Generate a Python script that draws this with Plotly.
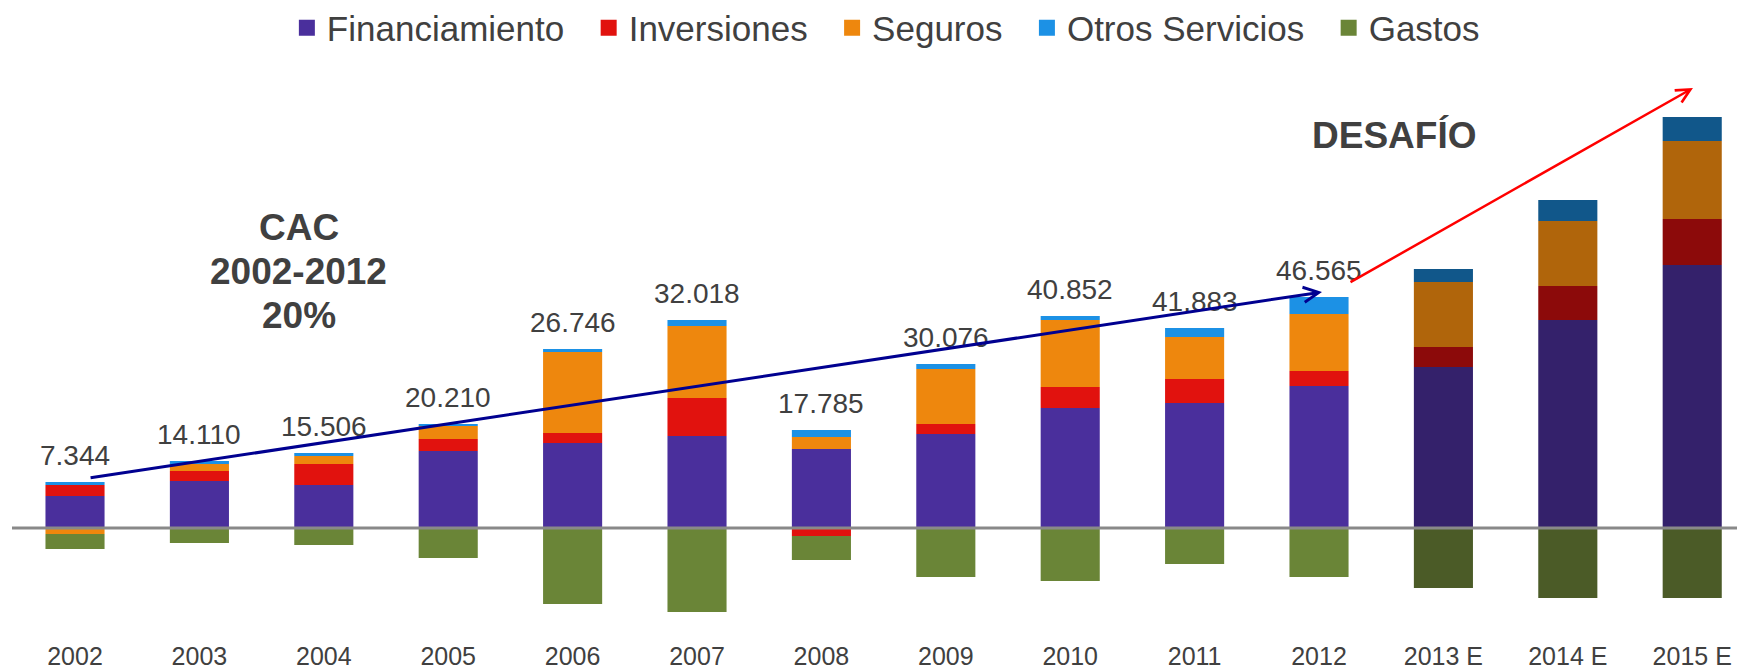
import plotly.graph_objects as go

categories = ["2002", "2003", "2004", "2005", "2006", "2007", "2008", "2009",
              "2010", "2011", "2012", "2013 E", "2014 E", "2015 E"]
financiamiento = [6.4, 9.4, 8.6, 15.4, 17.0, 18.4, 15.8, 18.8, 24.0, 25.0, 28.4, 32.2, 41.6, 52.6]
inversiones = [2.2, 2.0, 4.2, 2.4, 2.0, 7.6, -1.6, 2.0, 4.2, 4.8, 3.0, 4.0, 6.8, 9.2]
seguros = [-1.2, 1.4, 1.6, 2.6, 16.2, 14.4, 2.4, 11.0, 13.4, 8.4, 11.4, 13.0, 13.0, 15.6]
otros = [0.6, 0.6, 0.6, 0.4, 0.6, 1.2, 1.4, 1.0, 0.8, 1.8, 3.4, 2.6, 4.2, 4.8]
gastos = [-3.0, -3.0, -3.4, -6.0, -15.2, -16.8, -4.8, -9.8, -10.6, -7.2, -9.8, -12.0, -14.0, -14.0]
value_labels = ["7.344", "14.110", "15.506", "20.210", "26.746", "32.018", "17.785",
                "30.076", "40.852", "41.883", "46.565"]
cac_lines = ["CAC", "2002-2012", "20%"]
estimated = [False] * 11 + [True] * 3

series = [
    ("Financiamiento", financiamiento, "#4A2F9C", "#34216B"),
    ("Inversiones", inversiones, "#E1120E", "#8C0A0A"),
    ("Seguros", seguros, "#EE870D", "#B0650B"),
    ("Otros Servicios", otros, "#1C91E5", "#11578A"),
    ("Gastos", gastos, "#6A8537", "#4B5B27"),
]

FONT = "Liberation Sans, Arial, sans-serif"
TXT = "#404040"
PAD = "\u00a0\u00a0"

fig = go.Figure()
for name, vals, c, cd in series:
    fig.add_trace(go.Bar(
        x=categories, y=vals, name=name, width=0.475, showlegend=False,
        marker=dict(color=[cd if e else c for e in estimated], line=dict(width=0)),
        hoverinfo="skip",
    ))
for k, (name, vals, c, cd) in enumerate(series):
    fig.add_trace(go.Scatter(
        x=[None], y=[None], mode="markers", name=name + (PAD if k < len(series) - 1 else ""),
        marker=dict(symbol="square", size=19, color=c), hoverinfo="skip",
    ))

annotations = []
for i, lab in enumerate(value_labels):
    top = sum(v for v in (financiamiento[i], inversiones[i], seguros[i], otros[i], gastos[i]) if v > 0)
    annotations.append(dict(x=i, y=top, xref="x", yref="y", text=lab, showarrow=False,
                            yanchor="bottom", yshift=9,
                            font=dict(family=FONT, size=28, color=TXT)))

for line, yv in zip(cac_lines, [60.2, 51.3, 42.5]):
    annotations.append(dict(x=1.80, y=yv, xref="x", yref="y", text="<b>" + line + "</b>",
                            showarrow=False, font=dict(family=FONT, size=37, color=TXT)))
annotations.append(dict(x=10.60, y=78.6, xref="x", yref="y", text="<b>DESAFÍO</b>",
                        showarrow=False, font=dict(family=FONT, size=37, color=TXT)))
# growth arrows
annotations.append(dict(x=10.024, y=47.2, ax=0.113, ay=10.0, xref="x", yref="y",
                        axref="x", ayref="y", text="", showarrow=True, arrowhead=5,
                        arrowsize=1, arrowwidth=3, arrowcolor="#000090", standoff=0))
annotations.append(dict(x=13.006, y=88.0, ax=10.241, ay=49.0, xref="x", yref="y",
                        axref="x", ayref="y", text="", showarrow=True, arrowhead=5,
                        arrowsize=1.1, arrowwidth=2.5, arrowcolor="#FF0000", standoff=0))

fig.update_layout(
    width=1737, height=670,
    margin=dict(l=0, r=0, t=70, b=31, autoexpand=False),
    barmode="relative",
    plot_bgcolor="white", paper_bgcolor="white",
    font=dict(family=FONT, color=TXT),
    showlegend=True,
    legend=dict(orientation="h", x=0.51, xanchor="center", y=1.0738, yanchor="middle",
                font=dict(family=FONT, size=35, color=TXT), traceorder="normal",
                itemsizing="trace"),
    xaxis=dict(type="category", range=[-0.603, 13.36], showgrid=False, zeroline=False,
               showline=False, ticks="", automargin=False,
               tickfont=dict(family=FONT, size=25, color=TXT)),
    yaxis=dict(range=[-22.2, 91.6], showgrid=False, zeroline=False, showline=False,
               showticklabels=False, ticks="", automargin=False),
    annotations=annotations,
    shapes=[dict(type="line", xref="paper", yref="y", x0=12 / 1737, x1=1, y0=0, y1=0,
                 line=dict(color="#898989", width=3), layer="above")],
)

fig.write_html("out.html", config={"displayModeBar": False},
               post_script="document.body.style.margin='0px';document.body.style.overflow='hidden';")
